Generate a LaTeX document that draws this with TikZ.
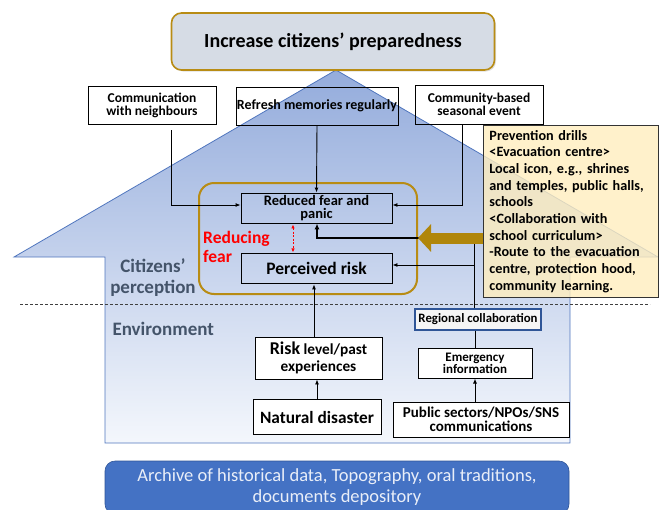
\documentclass[tikz,border=0pt]{standalone}
\usepackage{fontspec}
\setmainfont{Carlito}
\usetikzlibrary{positioning,arrows.meta,shadows}
\definecolor{frameGold}{RGB}{184,140,20}
\definecolor{arrowGold}{RGB}{176,134,10}
\definecolor{titleFill}{RGB}{214,220,229}
\definecolor{houseTop}{RGB}{148,172,220}
\definecolor{houseBot}{RGB}{244,247,252}
\definecolor{houseLine}{RGB}{80,118,190}
\definecolor{slate}{RGB}{68,84,106}
\definecolor{noteFill}{RGB}{255,238,190}
\definecolor{archBlue}{RGB}{68,114,196}
\definecolor{regLine}{RGB}{47,85,151}

\begin{document}
\begin{tikzpicture}[x=1pt,y=-1pt,node distance=20pt,
  box/.style={rectangle,draw=black,line width=0.9pt,inner sep=0pt,align=center},
  arr/.style={-{Latex[length=5pt,width=4pt]},line width=0.9pt},
  lbl/.style={font=\fontsize{19}{21}\selectfont\bfseries,text=slate,align=center}]

\useasboundingbox (0,0) rectangle (659,509);

% house
\path[draw=houseLine,line width=0.8pt,top color=houseTop,bottom color=houseBot]
  (14,257) -- (336,70) -- (658,257) -- (570,257) -- (570,443) -- (105,443) -- (105,257) -- cycle;
\draw[dash pattern=on 3pt off 2pt,line width=0.8pt,black!75] (20,304) -- (650,304);

\node[lbl] (percep) at (153,278) {Citizens’\\perception};
\node[lbl,anchor=west] (envir) at (109,329) {Environment};

% goal
\node[box,draw=frameGold,line width=1.6pt,rounded corners=10pt,fill=titleFill,
  minimum width=323pt,minimum height=57pt,font=\fontsize{20}{22}\selectfont\bfseries,
  drop shadow={opacity=0.25,shadow xshift=1.5pt,shadow yshift=-1.5pt}] (goal) at (333,41.5)
  {Increase citizens’ preparedness};

\node[box,minimum width=128pt,minimum height=38pt,font=\fontsize{13.5}{13}\selectfont\bfseries] (neigh) at (152,105) {Communication\\with neighbours};
\node[box,minimum width=162pt,minimum height=38pt,font=\fontsize{14}{14}\selectfont\bfseries] (refresh) at (317,106) {Refresh memories regularly};
\node[box,minimum width=128pt,minimum height=39pt,font=\fontsize{13.5}{13}\selectfont\bfseries] (season) at (479,104.5) {Community-based\\seasonal event};

% perception
\node[rectangle,draw=frameGold,line width=2pt,rounded corners=15pt,minimum width=218pt,minimum height=111pt] (frame) at (308,238.5) {};
\node[box,minimum width=151pt,minimum height=30pt,font=\fontsize{14.5}{13.5}\selectfont\bfseries] (reduced) at (316.5,208) {Reduced fear and\\panic};
\node[box,minimum width=151pt,minimum height=30pt,font=\fontsize{17.5}{18}\selectfont\bfseries,below=of reduced,yshift=-10pt] (perceived) {Perceived risk};
\node[anchor=west,align=left,text=red,font=\fontsize{17.5}{19}\selectfont\bfseries,inner sep=0pt] (redfear) at (203,247) {Reducing\\fear};

% environment
\node[box,fill=white,minimum width=127pt,minimum height=42pt,font=\fontsize{15.3}{17}\selectfont\bfseries] (risk) at (318.5,358) {{\fontsize{18}{17}\selectfont Risk} level/past\\experiences};
\node[box,fill=white,minimum width=128pt,minimum height=35pt,font=\fontsize{17.3}{18}\selectfont\bfseries,below=of risk,xshift=-1.5pt] (natural) {Natural disaster};
\node[box,draw=regLine,line width=1.3pt,fill=gray!8,minimum width=126pt,minimum height=21pt,font=\fontsize{12.8}{13}\selectfont\bfseries,
  drop shadow={opacity=0.2,shadow xshift=1pt,shadow yshift=-1pt}] (regional) at (478,319.5) {Regional collaboration};
\node[box,fill=white,minimum width=114pt,minimum height=30pt,font=\fontsize{13}{12.5}\selectfont\bfseries,below=17pt of regional,xshift=-3pt] (emerg) {Emergency\\information};
\node[box,fill=white,minimum width=176pt,minimum height=35pt,font=\fontsize{15}{14}\selectfont\bfseries,below=23pt of emerg,xshift=6pt] (public) {Public sectors/NPOs/SNS\\communications};

% archive
\node[rectangle,draw=regLine,line width=0.6pt,fill=archBlue,rounded corners=10pt,minimum width=464pt,minimum height=53pt,
  text=white!88!archBlue,font=\fontsize{18.5}{21}\selectfont,align=center] (archive) at (337,487.5)
  {Archive of historical data, Topography, oral traditions,\\documents depository};

\coordinate (jn) at (474,238);
\coordinate (jp) at (474,265);

\draw[arr] ([xshift=19pt,yshift=-6pt]neigh.south) |- ([yshift=3pt]reduced.west);
\draw[arr] (refresh.south) -- (reduced.north);
\draw[arr] ([xshift=-17pt]season.south) |- ([yshift=3pt]reduced.east);
\draw[line width=0.9pt] (regional.north -| jn) -- (jn);
\draw[-{Latex[length=6pt,width=5pt]},line width=1.8pt] (jn) -| ([xshift=0.5pt]reduced.south);
\draw[arr] (jp) -- (perceived.east |- jp);
\draw[red,line width=0.8pt,dash pattern=on 2pt off 1.5pt,{Latex[length=4pt,width=3.5pt]}-{Latex[length=4pt,width=3.5pt]}]
  ([xshift=-23.5pt,yshift=-1pt]reduced.south) -- ([xshift=-23.5pt,yshift=1pt]perceived.north);
\draw[arr] ([xshift=-4.5pt]risk.north) -- ([xshift=-4.5pt]risk.north |- perceived.south);
\draw[arr] (natural.north) -- (natural.north |- risk.south);
\draw[line width=0.9pt] (regional.south -| emerg.north) -- (emerg.north);
\draw[arr] (public.north -| emerg.south) -- (emerg.south);

% drills
\node[rectangle,draw=black!80,line width=0.9pt,fill=noteFill,fill opacity=0.8,text opacity=1,anchor=north west,
  text width=163pt,inner xsep=6pt,inner ysep=3pt,minimum height=172pt,align=left,font=\fontsize{14.2}{16.7}\selectfont\bfseries] (prevent) at (483,125)
  {Prevention drills\\<Evacuation centre>\\Local icon, e.g., shrines\\and temples, public halls,\\schools\\<Collaboration with\\school curriculum>\\-Route to the evacuation\\centre, protection hood,\\community learning.};

\draw[arrowGold,line width=11pt,-{Triangle[length=13pt,width=27pt]}] (prevent.west |- jn) -- (frame.east |- jn);
\end{tikzpicture}
\end{document}
